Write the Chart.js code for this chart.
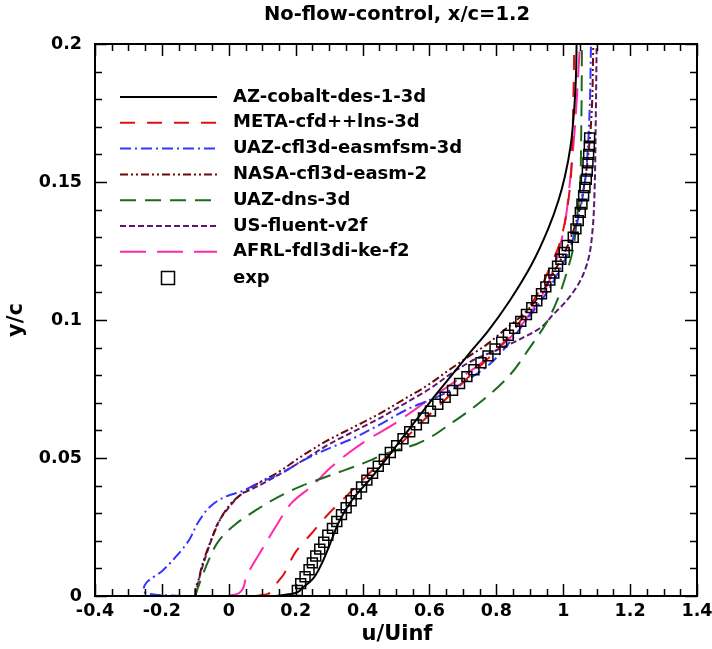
<!DOCTYPE html>
<html>
<head>
<meta charset="utf-8">
<script src="https://cdn.jsdelivr.net/npm/chart.js@4.4.1/dist/chart.umd.min.js"></script>
<style>
  body { margin: 0; background: #fff; }
  canvas { display: block; }
</style>
</head>
<body>
<canvas id="chart" width="712" height="649"></canvas>
<script>
// tick labels
const xTicks = [-0.4, -0.2, 0, 0.2, 0.4, 0.6, 0.8, 1, 1.2, 1.4];
const xTickLabels = ['-0.4', '-0.2', '0', '0.2', '0.4', '0.6', '0.8', '1', '1.2', '1.4'];
const yTicks = [0, 0.05, 0.1, 0.15, 0.2];
const yTickLabels = ['0', '0.05', '0.1', '0.15', '0.2'];

// series names
const seriesNames = ['AZ-cobalt-des-1-3d', 'META-cfd++lns-3d', 'UAZ-cfl3d-easmfsm-3d', 'NASA-cfl3d-easm-2',
  'UAZ-dns-3d', 'US-fluent-v2f', 'AFRL-fdl3di-ke-f2', 'exp'];

// u/Uinf and y/c, bottom to top
const azU = [0.14, 0.19, 0.22, 0.25, 0.275, 0.30, 0.33, 0.37, 0.42, 0.46, 0.53, 0.60, 0.66, 0.72, 0.775, 0.84, 0.905, 0.955, 0.985, 1.005, 1.022, 1.032, 1.038, 1.04];
const azY = [0.0, 0.0008, 0.003, 0.006, 0.011, 0.018, 0.027, 0.035, 0.042, 0.048, 0.059, 0.070, 0.079, 0.088, 0.096, 0.107, 0.12, 0.133, 0.143, 0.152, 0.163, 0.175, 0.188, 0.2];

const metaU = [0.08, 0.115, 0.14, 0.165, 0.20, 0.25, 0.30, 0.35, 0.40, 0.45, 0.505, 0.56, 0.62, 0.68, 0.74, 0.80, 0.85, 0.89, 0.93, 0.96, 0.99, 1.01, 1.023, 1.028, 1.031, 1.033];
const metaY = [0.0, 0.0007, 0.004, 0.008, 0.016, 0.023, 0.030, 0.036, 0.042, 0.048, 0.054, 0.061, 0.068, 0.075, 0.082, 0.089, 0.096, 0.103, 0.111, 0.119, 0.128, 0.139, 0.152, 0.168, 0.184, 0.2];

const uazU = [-0.14, -0.22, -0.255, -0.245, -0.2, -0.16, -0.12, -0.09, -0.05, -0.01, 0.04, 0.09, 0.15, 0.22, 0.29, 0.37, 0.45, 0.54, 0.63, 0.71, 0.78, 0.84, 0.89, 0.94, 0.98, 1.02, 1.045, 1.065, 1.075, 1.08, 1.083];
const uazY = [0.0, 0.0005, 0.002, 0.005, 0.009, 0.014, 0.02, 0.027, 0.033, 0.036, 0.038, 0.041, 0.044, 0.049, 0.053, 0.057, 0.062, 0.068, 0.0725, 0.078, 0.084, 0.092, 0.100, 0.108, 0.116, 0.126, 0.137, 0.15, 0.165, 0.18, 0.2];

const nasaU = [-0.1, -0.1, -0.09, -0.08, -0.06, -0.04, -0.02, 0.01, 0.05, 0.09, 0.15, 0.21, 0.29, 0.37, 0.45, 0.52, 0.59, 0.66, 0.72, 0.77, 0.83, 0.88, 0.93, 0.97, 1.01, 1.04, 1.06, 1.075, 1.085, 1.09];
const nasaY = [0.0, 0.002, 0.006, 0.011, 0.018, 0.024, 0.029, 0.034, 0.038, 0.041, 0.045, 0.050, 0.056, 0.061, 0.066, 0.071, 0.076, 0.082, 0.087, 0.091, 0.097, 0.102, 0.109, 0.117, 0.126, 0.136, 0.147, 0.16, 0.175, 0.2];

const dnsU = [-0.1, -0.095, -0.08, -0.06, -0.03, 0.02, 0.08, 0.15, 0.22, 0.31, 0.40, 0.48, 0.56, 0.67, 0.76, 0.84, 0.90, 0.95, 0.985, 1.01, 1.03, 1.04, 1.05, 1.054, 1.056];
const dnsY = [0.0, 0.002, 0.007, 0.013, 0.020, 0.026, 0.031, 0.036, 0.040, 0.044, 0.048, 0.052, 0.055, 0.063, 0.071, 0.080, 0.090, 0.099, 0.108, 0.117, 0.126, 0.136, 0.148, 0.17, 0.2];

const fluentU = [-0.1, -0.095, -0.085, -0.07, -0.05, -0.03, 0.0, 0.04, 0.09, 0.15, 0.22, 0.30, 0.38, 0.46, 0.53, 0.60, 0.67, 0.74, 0.80, 0.87, 0.93, 0.97, 1.01, 1.05, 1.075, 1.088, 1.094, 1.097, 1.1];
const fluentY = [0.0, 0.003, 0.008, 0.014, 0.021, 0.027, 0.032, 0.037, 0.040, 0.044, 0.049, 0.055, 0.060, 0.065, 0.070, 0.075, 0.081, 0.086, 0.089, 0.093, 0.097, 0.102, 0.107, 0.114, 0.122, 0.133, 0.148, 0.17, 0.2];

const afrlU = [0.0, 0.03, 0.05, 0.105, 0.145, 0.19, 0.25, 0.30, 0.36, 0.42, 0.49, 0.55, 0.62, 0.68, 0.74, 0.80, 0.86, 0.91, 0.95, 0.98, 1.005, 1.02, 1.035, 1.05];
const afrlY = [0.0, 0.001, 0.006, 0.018, 0.026, 0.034, 0.040, 0.046, 0.052, 0.057, 0.062, 0.067, 0.073, 0.078, 0.083, 0.089, 0.096, 0.104, 0.112, 0.122, 0.135, 0.15, 0.17, 0.2];

const expU = [0.205, 0.215, 0.228, 0.24, 0.25, 0.26, 0.272, 0.284, 0.296, 0.31, 0.323, 0.337, 0.351, 0.366, 0.381, 0.397, 0.413, 0.43, 0.447, 0.465,
  0.483, 0.502, 0.521, 0.541, 0.561, 0.582, 0.603, 0.625, 0.647, 0.669, 0.69, 0.712, 0.733, 0.754, 0.775, 0.796, 0.816, 0.836, 0.855, 0.873,
  0.89, 0.906, 0.921, 0.935, 0.948, 0.96, 0.972, 0.983, 0.993, 1.003, 1.012, 1.03, 1.038, 1.045, 1.051, 1.056, 1.061, 1.065, 1.069, 1.072,
  1.074, 1.076, 1.078, 1.079];
const expY = [0.002, 0.0045, 0.007, 0.0095, 0.012, 0.0145, 0.017, 0.0195, 0.022, 0.0245, 0.027, 0.0295, 0.032, 0.0345, 0.037, 0.0395, 0.042, 0.0445, 0.047, 0.0495,
  0.052, 0.0545, 0.057, 0.0595, 0.062, 0.0645, 0.067, 0.0695, 0.072, 0.0745, 0.077, 0.0795, 0.082, 0.0845, 0.087, 0.0895, 0.092, 0.0945, 0.097, 0.0995,
  0.102, 0.1045, 0.107, 0.1095, 0.112, 0.1145, 0.117, 0.1195, 0.122, 0.1245, 0.127, 0.13, 0.133, 0.136, 0.139, 0.142, 0.145, 0.148, 0.151, 0.154,
  0.157, 0.16, 0.163, 0.166];

const colors = ['#000000', '#e01010', '#3535ff', '#6a0a0a', '#1c6b1c', '#5a1870', '#ff2aa8'];
const dashes = [[], [15, 12], [11, 4, 2, 4], [8, 3, 2, 3, 2, 3], [16, 9], [6, 3], [26, 11]];

const FONT = 'DejaVu Sans';

function pts(us, ys) {
  return us.map((u, i) => ({ x: u, y: ys[i] }));
}

const lineData = [pts(azU, azY), pts(metaU, metaY), pts(uazU, uazY), pts(nasaU, nasaY),
  pts(dnsU, dnsY), pts(fluentU, fluentY), pts(afrlU, afrlY)];

const datasets = [{
  label: seriesNames[7],
  data: pts(expU, expY),
  showLine: false,
  pointStyle: 'rect',
  pointRadius: 7,
  pointBorderColor: '#000',
  pointBackgroundColor: 'rgba(0,0,0,0)',
  pointBorderWidth: 1.5,
  order: 0
}];
lineData.forEach((d, i) => {
  datasets.push({
    label: seriesNames[i],
    data: d,
    borderColor: colors[i],
    borderWidth: 2,
    borderDash: dashes[i],
    pointRadius: 0,
    cubicInterpolationMode: 'monotone',
    fill: false,
    order: 1
  });
});

// frame, inward ticks, titles and legend
const decorations = {
  id: 'decorations',
  afterDraw(chart) {
    const ctx = chart.ctx;
    const a = chart.chartArea;
    const xs = chart.scales.x, ys = chart.scales.y;
    ctx.save();
    ctx.strokeStyle = '#000';
    ctx.lineWidth = 1.5;
    ctx.beginPath();
    for (let i = 0; i <= 36; i++) {
      const v = -0.4 + i * 0.05;
      const px = Math.round(xs.getPixelForValue(v)) + 0.5;
      const len = i % 4 === 0 ? 12 : 7;
      ctx.moveTo(px, a.bottom); ctx.lineTo(px, a.bottom - len);
      ctx.moveTo(px, a.top); ctx.lineTo(px, a.top + len);
    }
    for (let i = 0; i <= 20; i++) {
      const v = i * 0.01;
      const py = Math.round(ys.getPixelForValue(v)) + 0.5;
      const len = i % 5 === 0 ? 12 : 7;
      ctx.moveTo(a.left, py); ctx.lineTo(a.left + len, py);
      ctx.moveTo(a.right, py); ctx.lineTo(a.right - len, py);
    }
    ctx.stroke();
    ctx.lineWidth = 2;
    ctx.strokeRect(a.left, a.top, a.right - a.left, a.bottom - a.top);

    // titles
    ctx.fillStyle = '#000';
    ctx.textAlign = 'center';
    ctx.textBaseline = 'middle';
    ctx.font = 'bold 19.5px "' + FONT + '"';
    ctx.fillText('No-flow-control, x/c=1.2', 397, 15);
    ctx.font = 'bold 21px "' + FONT + '"';
    ctx.fillText('u/Uinf', 397, 635);
    ctx.save();
    ctx.translate(17, 320);
    ctx.rotate(-Math.PI / 2);
    ctx.fillText('y/c', 0, 0);
    ctx.restore();

    // legend
    ctx.font = 'bold 18px "' + FONT + '"';
    ctx.textAlign = 'left';
    for (let i = 0; i < 7; i++) {
      const y = 97 + i * 25.8;
      ctx.strokeStyle = colors[i];
      ctx.lineWidth = 2;
      ctx.setLineDash(dashes[i]);
      ctx.beginPath();
      ctx.moveTo(120, y); ctx.lineTo(217, y);
      ctx.stroke();
      ctx.setLineDash([]);
      ctx.fillText(seriesNames[i], 233, y);
    }
    const ey = 278;
    ctx.strokeStyle = '#000';
    ctx.lineWidth = 1.5;
    ctx.strokeRect(161.5, ey - 6.5, 13, 13);
    ctx.fillText(seriesNames[7], 233, ey);
    ctx.restore();
  }
};

const tickFont = { family: FONT, size: 17.5, weight: 'bold' };

new Chart(document.getElementById('chart'), {
  type: 'line',
  data: { datasets },
  options: {
    responsive: false,
    animation: false,
    indexAxis: 'y',
    layout: { padding: { top: 44, right: 15, left: 0, bottom: 0 } },
    plugins: {
      legend: { display: false },
      tooltip: { enabled: false },
      title: { display: false }
    },
    scales: {
      x: {
        type: 'linear',
        position: 'bottom',
        min: -0.4,
        max: 1.4,
        afterBuildTicks(s) { s.ticks = xTicks.map(v => ({ value: v })); },
        afterFit(s) { s.height = 53; s.paddingLeft = 0; s.paddingRight = 0; },
        ticks: {
          callback: (v, i) => xTickLabels[i],
          font: tickFont,
          color: '#000',
          padding: 5,
          maxRotation: 0,
          autoSkip: false
        },
        grid: { display: false, drawTicks: false },
        border: { display: false }
      },
      y: {
        type: 'linear',
        position: 'left',
        min: 0,
        max: 0.2,
        afterBuildTicks(s) { s.ticks = yTicks.map(v => ({ value: v })); },
        afterFit(s) { s.width = 95; s.paddingTop = 0; s.paddingBottom = 0; },
        ticks: {
          callback: (v, i) => yTickLabels[i],
          font: tickFont,
          color: '#000',
          padding: 13,
          autoSkip: false
        },
        grid: { display: false, drawTicks: false },
        border: { display: false }
      }
    }
  },
  plugins: [decorations]
});
</script>
</body>
</html>
